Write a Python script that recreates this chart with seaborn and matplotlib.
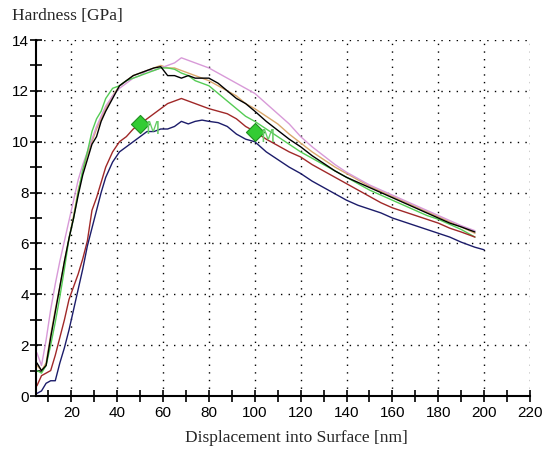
import matplotlib
matplotlib.use("Agg")
import matplotlib.pyplot as plt
import seaborn as sns
import pandas as pd
from matplotlib.ticker import MultipleLocator

depth = [5, 7, 9, 11, 13, 15, 17, 19, 21, 23, 25, 27, 29, 31, 33, 35,
         38, 41, 44, 47, 50, 53, 56, 59, 62, 65, 68, 71, 74, 77, 80,
         84, 88, 92, 96, 100,
         105, 110, 115, 120, 125, 130, 135, 140, 145, 150, 155, 160, 165, 170, 175, 180, 185, 190,
         196]

black = [1.3, 1.0, 1.2, 2.3, 3.3, 4.3, 5.3, 6.2, 7.0, 7.9, 8.7, 9.3, 9.9, 10.2, 10.8, 11.2,
         11.7, 12.2, 12.4, 12.6, 12.7, 12.8, 12.9, 12.95, 12.6, 12.6, 12.5, 12.6, 12.5, 12.5, 12.5,
         12.3, 12.0, 11.7, 11.5, 11.2,
         10.8, 10.45, 10.1, 9.8, 9.45, 9.15, 8.85, 8.6, 8.4, 8.2, 8.0, 7.8, 7.6, 7.4, 7.2, 7.0, 6.8, 6.65,
         6.45]
green = [1.0, 0.9, 1.2, 2.0, 2.9, 3.9, 5.0, 6.2, 7.0, 8.0, 8.9, 9.6, 10.4, 10.9, 11.2, 11.7,
         12.1, 12.2, 12.4, 12.5, 12.6, 12.7, 12.8, 12.9, 12.9, 12.85, 12.7, 12.6, 12.4, 12.3, 12.2,
         11.9, 11.6, 11.3, 11.0, 10.8,
         10.5, 10.2, 9.9, 9.6, 9.35, 9.1, 8.85, 8.6, 8.35, 8.1, 7.9, 7.7, 7.5, 7.3, 7.1, 6.95, 6.75, 6.55,
         6.25]
tan = [1.2, 1.0, 1.3, 2.4, 3.4, 4.3, 5.3, 6.2, 7.1, 8.1, 8.8, 9.5, 10.0, 10.5, 10.9, 11.3,
       11.8, 12.2, 12.4, 12.6, 12.7, 12.8, 12.9, 13.0, 12.9, 12.9, 12.8, 12.7, 12.6, 12.5, 12.4,
       12.2, 12.0, 11.8, 11.5, 11.3,
       11.0, 10.7, 10.3, 9.95, 9.6, 9.3, 9.0, 8.75, 8.5, 8.25, 8.05, 7.85, 7.65, 7.45, 7.25, 7.05, 6.85, 6.65,
       6.4]
pink = [1.7, 1.2, 2.2, 3.4, 4.4, 5.3, 6.1, 6.9, 7.7, 8.5, 9.1, 9.6, 10.1, 10.6, 11.0, 11.4,
        11.8, 12.1, 12.3, 12.5, 12.6, 12.8, 12.8, 12.9, 13.0, 13.1, 13.3, 13.2, 13.1, 13.0, 12.9,
        12.7, 12.5, 12.3, 12.1, 11.9,
        11.5, 11.1, 10.7, 10.2, 9.8, 9.45, 9.1, 8.8, 8.55, 8.3, 8.1, 7.9, 7.7, 7.5, 7.3, 7.1, 6.9, 6.7,
        6.5]
brown = [0.4, 0.8, 0.9, 1.0, 1.6, 2.3, 3.0, 3.8, 4.3, 4.8, 5.4, 6.1, 7.3, 7.8, 8.4, 9.0,
         9.6, 10.0, 10.2, 10.5, 10.7, 10.9, 11.1, 11.3, 11.5, 11.6, 11.7, 11.6, 11.5, 11.4, 11.3,
         11.2, 11.1, 10.9, 10.6, 10.4,
         10.1, 9.85, 9.6, 9.4, 9.1, 8.85, 8.6, 8.35, 8.1, 7.85, 7.6, 7.4, 7.25, 7.1, 6.95, 6.8, 6.6, 6.45,
         6.25]
navy_depth = depth + [200]
navy = [0.1, 0.2, 0.5, 0.6, 0.6, 1.3, 1.9, 2.6, 3.4, 4.2, 5.0, 5.9, 6.6, 7.3, 8.0, 8.6,
        9.2, 9.6, 9.8, 10.0, 10.2, 10.4, 10.4, 10.5, 10.5, 10.6, 10.8, 10.7, 10.8, 10.85, 10.8,
        10.75, 10.6, 10.3, 10.1, 10.0,
        9.6, 9.3, 9.0, 8.75, 8.45, 8.2, 7.95, 7.7, 7.5, 7.35, 7.2, 7.0, 6.85, 6.7, 6.55, 6.4, 6.25, 6.05,
        5.85, 5.75]

marker_x = [50, 100]
marker_y = [10.7, 10.4]
marker_labels = ["M", "M"]

series = [
    (depth, tan, "#d9a86c"),
    (depth, pink, "#d89ad8"),
    (depth, green, "#55cc55"),
    (depth, black, "#000000"),
    (depth, brown, "#a02828"),
    (navy_depth, navy, "#1c1c6a"),
]

sns.set_style("white")
fig = plt.figure(figsize=(5.5, 4.5), dpi=100)
ax = fig.add_axes([36 / 550, 1 - 396 / 450, (530 - 36) / 550, (396 - 40) / 450])

for xs, ys, col in series:
    df = pd.DataFrame({"x": xs, "y": ys})
    sns.lineplot(data=df, x="x", y="y", ax=ax, color=col, linewidth=1.0,
                 sort=False, estimator=None)

ax.scatter(marker_x, marker_y, marker="D", s=85, color="#33cc33",
           edgecolor="#1f8f1f", linewidth=0.8, zorder=5)
for mx, my, lab in zip(marker_x, marker_y, marker_labels):
    ax.text(mx + 2.4, my - 0.2, lab, color="#66cc66", fontsize=12,
            va="center", ha="left", zorder=6)

ax.set_xlim(4.6, 220)
ax.set_ylim(0, 14)
ax.xaxis.set_major_locator(MultipleLocator(20))
ax.xaxis.set_minor_locator(MultipleLocator(10))
ax.yaxis.set_major_locator(MultipleLocator(2))
ax.yaxis.set_minor_locator(MultipleLocator(1))
ax.set_xticks([20, 40, 60, 80, 100, 120, 140, 160, 180, 200, 220])
ax.set_xticklabels([str(v) for v in [20, 40, 60, 80, 100, 120, 140, 160, 180, 200, 220]])
ax.grid(True, which="major", color="black", linestyle=(0, (1, 4.5)), linewidth=1.0)
ax.set_axisbelow(True)

for s in ["top", "right"]:
    ax.spines[s].set_visible(False)
for s in ["left", "bottom"]:
    ax.spines[s].set_color("black")
    ax.spines[s].set_linewidth(1.5)

ax.tick_params(which="both", direction="inout", length=8, width=1.2, colors="black",
               labelsize=11, left=True, bottom=True)
for lab in ax.get_xticklabels() + ax.get_yticklabels():
    lab.set_fontfamily("Liberation Sans")
ax.tick_params(axis="y", pad=1)
ax.tick_params(axis="x", pad=3)
ax.set_xlabel("")
ax.set_ylabel("")

fig.text(12 / 550, 1 - 16 / 450, "Hardness [GPa]", family="Liberation Serif",
         fontsize=12.5, ha="left", va="center")
fig.text(296 / 550, 1 - 438 / 450, "Displacement into Surface [nm]",
         family="Liberation Serif", fontsize=12.5, ha="center", va="center")

fig.savefig("out.png", dpi=100)
